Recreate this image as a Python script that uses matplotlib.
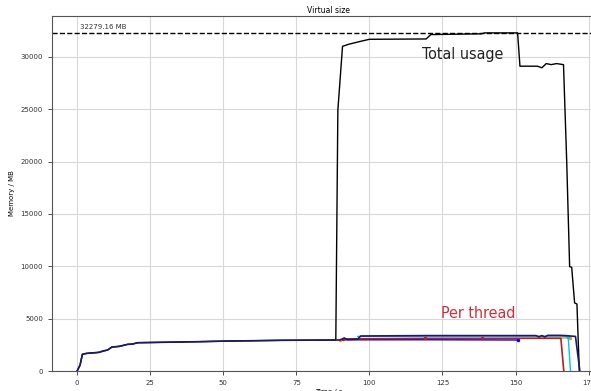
import numpy as np
import matplotlib
matplotlib.use("Agg")
from matplotlib import pyplot as plt

# total virtual size of the process (MB)
total_t = [0, 1, 1.8, 3.2, 7.5, 8.9, 10.4, 11.9, 14.4, 17.2, 18.9, 20.7, 41.8, 50, 70, 88.5,
           89.2, 90.8, 93, 96.6, 100, 119.4, 121, 138.2, 139.5, 150.7,
           151.5, 157.5, 159, 160.5, 162.2, 164, 166.4, 167.5, 168.5, 169.2, 170.2, 171, 171.8]
total_mb = [0, 570, 1590, 1680, 1780, 1910, 2000, 2290, 2350, 2540, 2570, 2700, 2800, 2850, 2930, 2950,
            24900, 31000, 31200, 31450, 31670, 31700, 32120, 32190, 32280, 32279,
            29100, 29100, 28950, 29350, 29250, 29350, 29250, 20000, 9960, 9900, 6500, 6400, 0]

# per thread (MB)
main_t = [0, 1, 1.8, 3.2, 7.5, 8.9, 10.4, 11.9, 14.4, 17.2, 18.9, 20.7, 41.8, 50, 70, 90,
          91.4, 92.5, 96, 97, 120, 157, 158, 159, 160, 161, 162, 165, 167, 170.5, 172]
main_mb = [0, 570, 1590, 1680, 1780, 1910, 2000, 2290, 2350, 2540, 2570, 2700, 2800, 2850, 2930, 2960,
           3150, 3000, 3050, 3340, 3380, 3380, 3250, 3380, 3250, 3400, 3400, 3400, 3380, 3300, 0]
red_t = [91, 119, 138.6, 165.5, 166.5]
red_mb = [3060, 3120, 3120, 3120, 0]
blue_t = [91, 120, 150.7]
blue_mb = [2990, 2980, 2960]
light_t = [96, 120, 166, 168, 168.8]
light_mb = [3300, 3330, 3330, 3250, 0]
orange_t = [90, 167, 168.5]
orange_mb = [2960, 3150, 3150]

peak = 32279.16

fig = plt.figure(figsize=(5.91, 3.91), dpi=100)
ax = fig.add_axes([52 / 591, 20 / 391, 553 / 591, 355 / 391])

ax.plot(total_t, total_mb, color="black", lw=1.0, zorder=3)
ax.plot(orange_t, orange_mb, color="darkorange", lw=1.0, marker=".", markevery=[0, 2], ms=3, zorder=4)
ax.plot(light_t, light_mb, color="deepskyblue", lw=1.0, marker=".", markevery=[3], ms=3, zorder=4)
ax.plot(blue_t, blue_mb, color="blue", lw=1.0, marker=".", markevery=[2], ms=3, zorder=4)
ax.plot(red_t, red_mb, color="firebrick", lw=1.2, marker=".", markevery=[0, 1, 2], ms=3, zorder=5)
ax.plot(main_t, main_mb, color="midnightblue", lw=1.2, zorder=5)

ax.axhline(peak, color="black", ls="--", lw=1.0)
ax.text(1, peak + 350, "%.2f MB" % peak, fontsize=5, color="#333333")

ax.text(118, 29800, "Total usage", fontsize=11.5, family="DejaVu Sans", stretch="condensed",
        weight="light", color="#222222")
ax.text(124.5, 5100, "Per thread", fontsize=11.5, family="DejaVu Sans", stretch="condensed",
        weight="light", color="#d0303a")

ax.set_xlim(-8.6, 180.6)
ax.set_ylim(0, peak * 1.05)
ax.set_xticks(np.arange(0, 176, 25))
ax.set_yticks(np.arange(0, 30001, 5000))
ax.grid(True, color="#d8d8d8", lw=0.8)
ax.set_axisbelow(True)
ax.tick_params(labelsize=5, colors="#333333", length=3, width=0.6)
for s in ax.spines.values():
    s.set_color("#555555")
    s.set_linewidth(0.8)

ax.set_title("Virtual size", fontsize=5.5, pad=2)
ax.set_xlabel("Time / s", fontsize=5, labelpad=2)
ax.set_ylabel("Memory / MB", fontsize=5, labelpad=4)

plt.savefig("out.png", dpi=100)
